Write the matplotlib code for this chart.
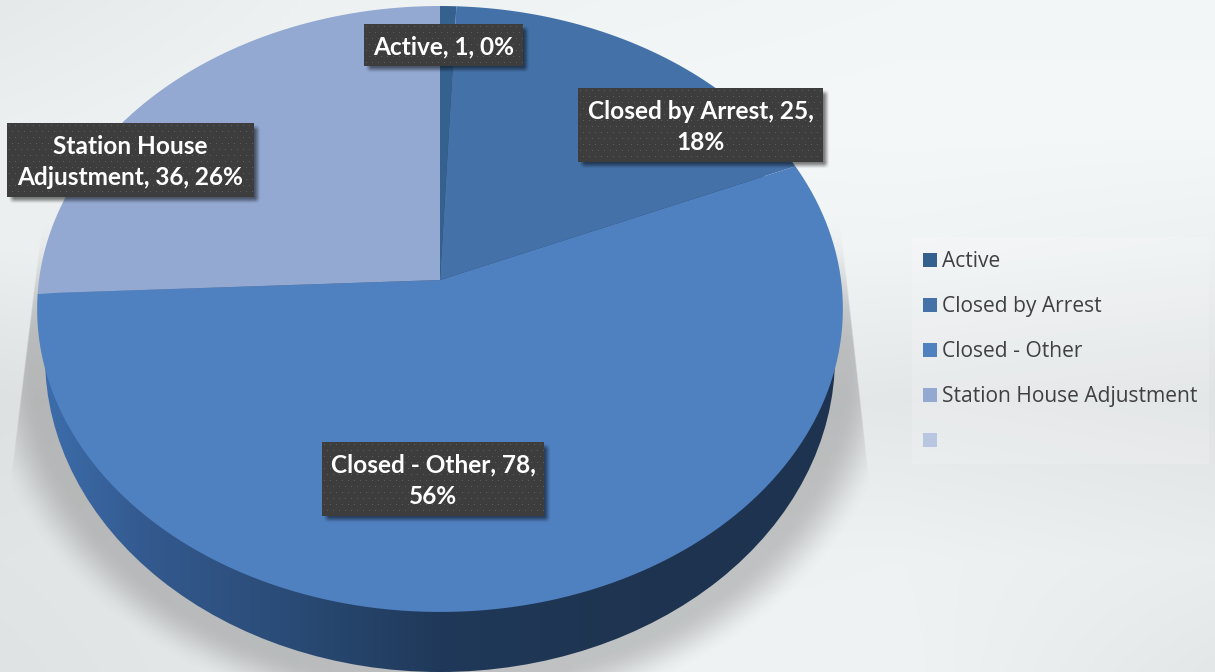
import numpy as np
import matplotlib
matplotlib.use('Agg')
import matplotlib.pyplot as plt
from matplotlib.colors import to_rgb
from matplotlib.patches import Ellipse, Rectangle
from matplotlib.path import Path
from matplotlib.transforms import Affine2D, Transform

W, H = 1215, 672

categories = ['Active', 'Closed by Arrest', 'Closed - Other', 'Station House Adjustment', '']
counts = [1, 25, 78, 36, 0]
shares = [0, 18, 56, 26]
label_text = ['Active, {}, {}%', 'Closed by Arrest, {},\n{}%', 'Closed - Other, {},\n{}%',
              'Station House\nAdjustment, {}, {}%']
slice_colors = ['#35618F', '#4472A8', '#4F80BF', '#93A9D2', '#B9C6E0']

# label boxes in pixels: x0, y0, x1, y1
boxes = [(364, 24, 523, 66), (578, 88, 823, 162), (322, 442, 544, 516), (7, 123, 254, 197)]

# top face: disc projected in perspective, spokes meet at (cx, cy)
cx, cy, rx = 440, 280, 401
persp, ya = 0.0957, -273.4


class TiltTransform(Transform):
    input_dims = 2
    output_dims = 2

    def transform_non_affine(self, xy):
        xy = np.asarray(xy, dtype=float)
        w = 1 + persp * xy[:, 1]
        return np.column_stack([cx + rx * xy[:, 0] / w, (ya * xy[:, 1] + cy) / w])

    def transform_path_non_affine(self, path):
        # flatten the arcs first so the rim stays a true projection
        # scaled up because to_polygons flattens to about one unit
        polys = path.transformed(Affine2D().scale(2000)).to_polygons(closed_only=True)
        if not polys:
            return Path(self.transform_non_affine(path.vertices), path.codes)
        return Path(self.transform_non_affine(polys[0] / 2000), closed=True)


def smooth(t):
    t = np.clip(t, 0, 1)
    return t * t * (3 - 2 * t)


fig = plt.figure(figsize=(W / 100, H / 100), dpi=100)
ax = fig.add_axes([0, 0, 1, 1])

# background
bg_x = [0, 300, 600, 900, 1215]
bg_y = [0, 120, 250, 400, 560, 672]
bg_grey = np.array([[232, 240, 243, 245, 245],
                    [238, 243, 246, 247, 247],
                    [238, 242, 243, 243, 240],
                    [224, 230, 234, 230, 226],
                    [228, 232, 240, 241, 236],
                    [226, 232, 242, 242, 230]], dtype=float)
xx, yy = np.meshgrid(np.arange(W) + .5, np.arange(H) + .5)
rows = np.array([np.interp(np.arange(W), bg_x, r) for r in bg_grey])
grey = np.array([np.interp(np.arange(H), bg_y, rows[:, i]) for i in range(W)]).T
bg = np.dstack([grey - 2, grey + 1, grey + 2]) / 255
ax.imshow(np.clip(bg, 0, 1), extent=(0, W, H, 0), aspect='auto', zorder=0)

# shadow under the pie
r = np.sqrt(((xx - 440) / 395) ** 2 + ((yy - 357) / 315) ** 2)
fade = smooth((1.17 - r) / 0.14)
fade *= smooth((yy - 215) / 130)
fade *= smooth((xx - (37 - (yy - 260) * 27 / 220)) / 2) * smooth(((843 + (yy - 240) * 27 / 240) - xx) / 2)
sh = np.zeros((H, W, 4))
sh[..., :3] = 0.32
sh[..., 3] = 0.3 * fade
ax.imshow(sh, extent=(0, W, H, 0), aspect='auto', zorder=1)

# side wall
wall_x = [40, 150, 300, 440, 640, 845]
wall_r = [0x3D, 0x33, 0x29, 0x20, 0x1E, 0x1E]
wall_g = [0x6E, 0x59, 0x4A, 0x39, 0x34, 0x33]
wall_b = [0xAC, 0x8E, 0x74, 0x5A, 0x50, 0x50]
wall = np.dstack([np.interp(xx, wall_x, c) for c in (wall_r, wall_g, wall_b)]) / 255
wall_im = ax.imshow(wall, extent=(0, W, H, 0), aspect='auto', zorder=2)
wall_shape = Ellipse((440, 357), 2 * 395, 2 * 315, transform=ax.transData)
wall_im.set_clip_path(wall_shape)

# top face
wedges, _ = ax.pie(counts, colors=slice_colors, startangle=90, counterclock=False)
tilt = TiltTransform()
for w in wedges:
    w.set_transform(tilt + ax.transData)
    w.set_linewidth(0)
    w.set_zorder(3)

ax.set(aspect='auto', xlim=(0, W), ylim=(H, 0), xticks=[], yticks=[])
ax.set_frame_on(False)

# data labels
for box, tmpl, n, pct in zip(boxes, label_text, counts, shares):
    x0, y0, x1, y1 = box
    # soft shadow
    bs = np.zeros((H, W, 4))
    edge = 7
    a = smooth((xx - (x0 + 3)) / edge + .3) * smooth(((x1 + 5) - xx) / edge + .3)
    a *= smooth((yy - (y0 + 3)) / edge + .3) * smooth(((y1 + 5) - yy) / edge + .3)
    bs[..., 3] = 0.5 * a
    ax.imshow(bs, extent=(0, W, H, 0), aspect='auto', zorder=4)

    bw, bh = x1 - x0, y1 - y0
    tile = np.ones((bh, bw, 3)) * np.array(to_rgb('#3D3D3D'))
    for j in range(bh):
        for i in range(bw):
            if j % 6 == 2 and (i + (j // 6) * 3) % 6 == 2:
                tile[j, i] = to_rgb('#5E5E5E')
    ax.imshow(tile, extent=(x0, x1, y1, y0), aspect='auto', zorder=5, interpolation='nearest')
    ax.text((x0 + x1) / 2, (y0 + y1) / 2 + 2, tmpl.format(n, pct), color='white', fontweight='bold',
            family='Lato', fontsize=17.6, ha='center', va='center', linespacing=1.45, zorder=6)

ax.set(xlim=(0, W), ylim=(H, 0))

# legend
ax.add_patch(Rectangle((912, 237), 297, 227, facecolor='white', alpha=0.15, linewidth=0, zorder=2))
leg = ax.legend(wedges, categories, loc='upper left', bbox_to_anchor=(923 / W, 1 - 251 / H),
                frameon=False, prop={'family': 'Open Sans', 'size': 15.1},
                labelcolor='#404040', handlelength=0.67, handleheight=0.67, handletextpad=0.22,
                labelspacing=1.15, borderpad=0, borderaxespad=0)

fig.savefig('out.png', dpi=100)
